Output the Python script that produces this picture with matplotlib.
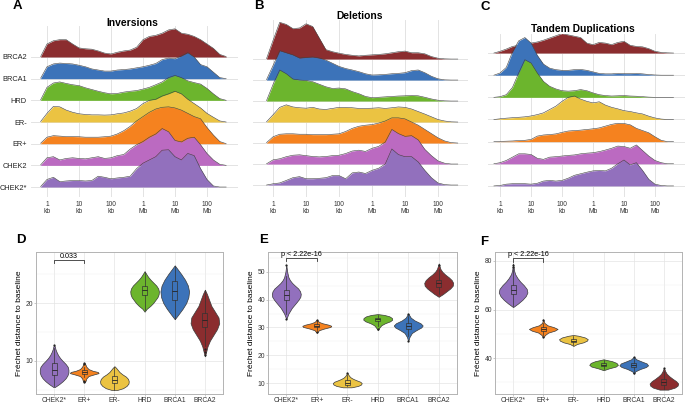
import numpy as np
import matplotlib
matplotlib.use('Agg')
import matplotlib.pyplot as plt

plt.rcParams['font.family'] = ['Liberation Sans', 'DejaVu Sans']

# groups, bottom row first
groups = ['CHEK2*', 'CHEK2', 'ER+', 'ER-', 'HRD', 'BRCA1', 'BRCA2']
colors = {'CHEK2*': '#9270bd', 'CHEK2': '#bb6ac1', 'ER+': '#f5821f', 'ER-': '#ebc342',
          'HRD': '#6cb52d', 'BRCA1': '#3c73b9', 'BRCA2': '#8b2d2f'}

# log10(size in bp)
log_bp = [2.8, 3.0, 3.2, 3.4, 3.6, 3.8, 4.0, 4.2, 4.4, 4.6, 4.8, 5.0, 5.2, 5.4, 5.6,
          5.8, 6.0, 6.2, 6.4, 6.6, 6.8, 7.0, 7.2, 7.4, 7.6, 7.8, 8.0, 8.2, 8.4, 8.6]
size_ticks = [3, 4, 5, 6, 7, 8]
size_labels = ['1\nkb', '10\nkb', '100\nkb', '1\nMb', '10\nMb', '100\nMb']

# ridge heights (in row units) - Inversions
inv_brca2 = [0.02, 0.6, 0.75, 0.8, 0.8, 0.6, 0.42, 0.38, 0.36, 0.28, 0.18, 0.14, 0.22, 0.28, 0.32,
             0.45, 0.8, 0.95, 1.0, 1.1, 1.25, 1.3, 1.1, 1.05, 0.95, 0.8, 0.6, 0.4, 0.12, 0.02]
inv_brca1 = [0.02, 0.55, 0.68, 0.72, 0.7, 0.68, 0.62, 0.55, 0.45, 0.4, 0.35, 0.35, 0.4, 0.42, 0.45,
             0.5, 0.55, 0.62, 0.7, 0.88, 0.95, 0.92, 1.05, 1.2, 1.0, 0.65, 0.55, 0.3, 0.05, 0.0]
inv_hrd = [0.02, 0.6, 0.8, 0.85, 0.78, 0.72, 0.68, 0.58, 0.5, 0.42, 0.35, 0.3, 0.32, 0.38, 0.42,
           0.45, 0.52, 0.6, 0.72, 0.85, 1.05, 1.15, 1.05, 0.9, 0.82, 0.75, 0.55, 0.3, 0.08, 0.0]
inv_ern = [0.02, 0.4, 0.72, 0.7, 0.55, 0.45, 0.38, 0.35, 0.33, 0.33, 0.32, 0.33, 0.38, 0.42, 0.5,
           0.62, 0.85, 1.0, 1.05, 1.2, 1.3, 1.42, 1.3, 1.05, 0.85, 0.65, 0.4, 0.22, 0.05, 0.0]
inv_erp = [0.02, 0.3, 0.37, 0.35, 0.33, 0.33, 0.32, 0.3, 0.3, 0.3, 0.32, 0.35, 0.45, 0.6, 0.8,
           1.05, 1.25, 1.45, 1.6, 1.68, 1.7, 1.65, 1.55, 1.4, 1.25, 1.15, 0.75, 0.4, 0.1, 0.0]
inv_chek2 = [0.02, 0.35, 0.4, 0.25, 0.32, 0.35, 0.32, 0.3, 0.35, 0.4, 0.32, 0.35, 0.45, 0.5, 0.75,
             0.95, 1.1, 1.3, 1.45, 1.7, 1.55, 1.15, 1.08, 1.25, 1.3, 0.95, 0.55, 0.25, 0.05, 0.0]
inv_chek2s = [0.02, 0.35, 0.45, 0.25, 0.28, 0.3, 0.3, 0.28, 0.3, 0.5, 0.45, 0.38, 0.42, 0.45, 0.5,
              0.85, 1.1, 1.25, 1.4, 1.7, 1.72, 1.4, 1.25, 1.55, 1.45, 0.85, 0.35, 0.05, 0.0, 0.0]

# Deletions
del_brca2 = [0.02, 0.9, 1.75, 1.65, 1.45, 1.48, 1.68, 1.55, 1.0, 0.45, 0.35, 0.28, 0.22, 0.18, 0.15,
             0.18, 0.2, 0.22, 0.25, 0.3, 0.35, 0.38, 0.3, 0.3, 0.25, 0.12, 0.04, 0.01, 0.0, 0.0]
del_brca1 = [0.02, 0.7, 1.4, 1.3, 1.2, 1.05, 1.08, 1.1, 1.05, 0.95, 0.8, 0.65, 0.55, 0.48, 0.4,
             0.3, 0.24, 0.25, 0.27, 0.3, 0.32, 0.35, 0.45, 0.48, 0.35, 0.18, 0.06, 0.01, 0.0, 0.0]
del_hrd = [0.02, 0.8, 1.48, 1.3, 1.05, 1.0, 0.98, 0.92, 0.8, 0.68, 0.6, 0.62, 0.58, 0.45, 0.35,
           0.22, 0.16, 0.18, 0.2, 0.22, 0.24, 0.25, 0.27, 0.25, 0.18, 0.1, 0.04, 0.01, 0.0, 0.0]
del_ern = [0.01, 0.35, 0.7, 0.82, 0.72, 0.68, 0.66, 0.7, 0.62, 0.6, 0.65, 0.7, 0.7, 0.68, 0.65,
           0.65, 0.66, 0.68, 0.65, 0.68, 0.72, 0.7, 0.62, 0.5, 0.38, 0.25, 0.12, 0.05, 0.01, 0.0]
del_erp = [0.02, 0.3, 0.42, 0.44, 0.44, 0.42, 0.42, 0.4, 0.4, 0.4, 0.42, 0.44, 0.55, 0.7, 0.8,
           0.85, 0.88, 0.95, 1.05, 1.2, 1.2, 1.15, 1.0, 0.85, 0.65, 0.45, 0.25, 0.1, 0.02, 0.0]
del_chek2 = [0.01, 0.2, 0.25, 0.35, 0.42, 0.44, 0.4, 0.36, 0.34, 0.36, 0.4, 0.42, 0.5, 0.62, 0.66,
             0.6, 0.75, 0.84, 1.05, 1.65, 1.45, 1.32, 1.35, 1.15, 0.7, 0.4, 0.15, 0.04, 0.0, 0.0]
del_chek2s = [0.0, 0.06, 0.1, 0.22, 0.35, 0.4, 0.3, 0.3, 0.32, 0.35, 0.45, 0.45, 0.3, 0.58, 0.62,
              0.55, 0.7, 0.8, 1.0, 1.72, 1.45, 1.35, 1.35, 1.1, 0.7, 0.35, 0.1, 0.02, 0.0, 0.0]

# Tandem duplications
td_brca2 = [0.0, 0.08, 0.18, 0.3, 0.35, 0.4, 0.45, 0.5, 0.58, 0.68, 0.78, 0.88, 0.82, 0.76, 0.7,
            0.45, 0.38, 0.48, 0.45, 0.38, 0.48, 0.53, 0.35, 0.3, 0.28, 0.2, 0.08, 0.03, 0.01, 0.0]
td_brca1 = [0.0, 0.1, 0.35, 1.05, 1.55, 1.7, 1.45, 0.9, 0.5, 0.32, 0.25, 0.22, 0.22, 0.25, 0.26,
            0.22, 0.15, 0.08, 0.06, 0.06, 0.08, 0.07, 0.07, 0.08, 0.06, 0.03, 0.01, 0.0, 0.0, 0.0]
td_hrd = [0.0, 0.03, 0.12, 0.45, 1.1, 1.7, 1.55, 1.1, 0.72, 0.5, 0.38, 0.3, 0.28, 0.3, 0.35,
          0.3, 0.2, 0.12, 0.08, 0.06, 0.07, 0.08, 0.06, 0.05, 0.03, 0.01, 0.0, 0.0, 0.0, 0.0]
td_ern = [0.0, 0.03, 0.06, 0.08, 0.1, 0.12, 0.16, 0.22, 0.3, 0.45, 0.6, 0.82, 1.0, 1.06, 0.92,
          0.82, 0.75, 0.8, 0.65, 0.55, 0.48, 0.4, 0.36, 0.3, 0.25, 0.15, 0.07, 0.02, 0.0, 0.0]
td_erp = [0.0, 0.01, 0.02, 0.03, 0.05, 0.06, 0.1, 0.25, 0.3, 0.32, 0.35, 0.42, 0.48, 0.5, 0.52,
          0.55, 0.58, 0.62, 0.7, 0.78, 0.83, 0.82, 0.76, 0.6, 0.5, 0.4, 0.22, 0.06, 0.0, 0.0]
td_chek2 = [0.0, 0.05, 0.15, 0.3, 0.45, 0.45, 0.42, 0.25, 0.2, 0.3, 0.32, 0.35, 0.38, 0.4, 0.45,
            0.48, 0.5, 0.55, 0.62, 0.7, 0.8, 0.78, 0.7, 0.85, 0.6, 0.35, 0.15, 0.05, 0.0, 0.0]
td_chek2s = [0.0, 0.02, 0.08, 0.1, 0.1, 0.1, 0.08, 0.12, 0.22, 0.25, 0.22, 0.25, 0.35, 0.48, 0.55,
             0.62, 0.68, 0.7, 0.68, 0.8, 1.0, 1.17, 0.95, 1.05, 0.7, 0.3, 0.08, 0.02, 0.0, 0.0]

# violin panels: categories left to right
vgroups = ['CHEK2*', 'ER+', 'ER-', 'HRD', 'BRCA1', 'BRCA2']

# violin outlines: (y values, relative width) per group
d_shapes = {
    'CHEK2*': ([5.5, 6.0, 6.5, 7.0, 7.5, 8.0, 8.5, 9.0, 9.5, 10.0, 10.5, 11.0, 11.5, 12.0, 12.5, 12.8],
               [0.05, 0.35, 0.6, 0.8, 0.93, 1.0, 1.0, 0.95, 0.8, 0.6, 0.42, 0.28, 0.18, 0.1, 0.05, 0.0]),
    'ER+': ([6.3, 6.6, 7.0, 7.4, 7.7, 7.9, 8.1, 8.3, 8.6, 9.0, 9.4, 9.7],
            [0.02, 0.1, 0.15, 0.3, 0.7, 1.0, 0.95, 0.6, 0.3, 0.15, 0.08, 0.0]),
    'ER-': ([5.0, 5.3, 5.7, 6.1, 6.5, 6.9, 7.3, 7.7, 8.1, 8.5, 8.8, 9.1],
            [0.2, 0.6, 0.85, 0.98, 1.0, 0.95, 0.8, 0.55, 0.35, 0.22, 0.12, 0.0]),
    'HRD': ([18.5, 19.0, 19.5, 20.0, 20.5, 21.0, 21.5, 22.0, 22.5, 23.0, 23.5, 24.0, 24.5, 25.0, 25.5],
            [0.0, 0.15, 0.4, 0.6, 0.75, 0.9, 0.98, 1.0, 0.95, 0.82, 0.62, 0.42, 0.25, 0.12, 0.0]),
    'BRCA1': ([17.2, 18, 19, 20, 21, 22, 23, 24, 25, 26, 26.5],
              [0.0, 0.25, 0.55, 0.8, 0.95, 1.0, 0.92, 0.72, 0.45, 0.15, 0.0]),
    'BRCA2': ([10.8, 11.5, 12.5, 13.5, 14.5, 15.5, 16.5, 17.5, 18.5, 19.5, 20.5, 21.5, 22.3],
              [0.0, 0.08, 0.18, 0.35, 0.6, 0.85, 1.0, 0.95, 0.7, 0.45, 0.3, 0.15, 0.0]),
}
e_shapes = {
    'CHEK2*': ([33, 35, 37, 39, 40, 41, 42, 43, 44, 45, 46, 47, 48, 50, 52.5],
               [0.0, 0.15, 0.38, 0.7, 0.85, 0.97, 1.0, 0.95, 0.82, 0.6, 0.4, 0.25, 0.15, 0.06, 0.0]),
    'ER+': ([28, 29, 29.6, 30.2, 30.6, 31.0, 31.5, 32.0, 32.8],
            [0.0, 0.15, 0.5, 0.95, 1.0, 0.8, 0.4, 0.15, 0.0]),
    'ER-': ([8.5, 9.0, 9.5, 10.0, 10.5, 11.0, 11.5, 12.0, 12.5, 13.0, 13.8],
            [0.3, 0.75, 0.95, 1.0, 0.9, 0.65, 0.42, 0.25, 0.15, 0.08, 0.0]),
    'HRD': ([29, 30, 30.8, 31.5, 32.2, 32.8, 33.4, 34.0, 34.5, 34.8],
            [0.0, 0.12, 0.25, 0.5, 0.85, 1.0, 0.98, 0.8, 0.45, 0.0]),
    'BRCA1': ([25, 26.5, 28, 29, 30, 30.7, 31.5, 32.5, 33.5, 35],
              [0.0, 0.08, 0.25, 0.55, 0.9, 1.0, 0.85, 0.45, 0.18, 0.0]),
    'BRCA2': ([41, 42, 43, 44, 45, 46, 47, 48, 49, 50, 51, 53],
              [0.0, 0.3, 0.55, 0.8, 0.97, 1.0, 0.9, 0.7, 0.45, 0.25, 0.12, 0.0]),
}
f_shapes = {
    'CHEK2*': ([61, 62.5, 64, 65.5, 67, 68.5, 70, 71.5, 73, 74.5, 76, 79],
               [0.0, 0.35, 0.65, 0.88, 1.0, 0.95, 0.75, 0.5, 0.3, 0.15, 0.07, 0.0]),
    'ER+': ([48.5, 49.5, 50.5, 51.3, 52.0, 52.7, 53.5, 54.5, 56],
            [0.0, 0.12, 0.35, 0.8, 1.0, 0.75, 0.3, 0.08, 0.0]),
    'ER-': ([45, 45.8, 46.5, 47.2, 47.8, 48.5, 49.2, 49.5],
            [0.0, 0.25, 0.7, 0.95, 1.0, 0.8, 0.35, 0.0]),
    'HRD': ([35, 35.8, 36.5, 37.2, 38.0, 38.7, 39.5],
            [0.0, 0.4, 0.85, 1.0, 0.9, 0.6, 0.0]),
    'BRCA1': ([33.5, 34.5, 35.5, 36.3, 37.0, 37.8, 38.6, 39.5, 40.5],
              [0.0, 0.1, 0.45, 0.85, 1.0, 0.9, 0.55, 0.18, 0.0]),
    'BRCA2': ([27, 27.8, 28.6, 29.5, 30.5, 31.5, 32.5, 33.5, 34.5, 36],
              [0.3, 0.75, 0.95, 1.0, 0.85, 0.6, 0.38, 0.2, 0.1, 0.0]),
}

# box summaries: median, q1, q3, lower whisker, upper whisker, outliers
d_boxes = {'CHEK2*': (8.5, 7.5, 9.6, 5.6, 12.3, [12.8]),
           'ER+': (8.05, 7.75, 8.4, 7.2, 9.0, [6.4, 6.6, 9.5, 9.7]),
           'ER-': (6.8, 6.2, 7.4, 5.0, 9.0, []),
           'HRD': (22.2, 21.3, 23.0, 18.8, 25.3, []),
           'BRCA1': (22.0, 20.5, 23.8, 17.3, 26.4, []),
           'BRCA2': (17.0, 15.8, 18.2, 12.5, 22.2, [11.0, 11.5, 12.0])}
e_boxes = {'CHEK2*': (41.8, 39.8, 43.5, 35.0, 48.5, [33.2, 52.3]),
           'ER+': (30.6, 30.1, 31.2, 29.2, 32.2, [28.2, 32.7]),
           'ER-': (10.2, 9.5, 11.0, 8.8, 12.8, [13.6]),
           'HRD': (33.0, 32.3, 33.5, 30.5, 34.6, [29.3]),
           'BRCA1': (30.5, 29.5, 31.5, 27.0, 34.0, [25.3, 34.8]),
           'BRCA2': (45.8, 44.5, 47.2, 42.0, 51.0, [52.6])}
f_boxes = {'CHEK2*': (68.0, 66.2, 70.0, 61.5, 77.0, [77.5, 78.5]),
           'ER+': (52.0, 51.3, 52.8, 49.5, 54.5, [48.8, 55.8]),
           'ER-': (47.2, 46.6, 47.8, 45.5, 49.0, []),
           'HRD': (37.3, 36.6, 38.0, 35.5, 39.3, []),
           'BRCA1': (37.0, 36.2, 37.8, 34.5, 39.8, [33.8, 40.5]),
           'BRCA2': (30.0, 28.8, 31.3, 27.2, 34.5, [35.8])}

W, H = 685, 405
fig = plt.figure(figsize=(6.85, 4.05), dpi=100)


def px_axes(l, t, r, b):
    return fig.add_axes([l / W, 1 - b / H, (r - l) / W, (b - t) / H])


def ridge_panel(ax, rows, xlim, ylim, show_labels):
    for k, g in enumerate(groups):
        base = k + 1
        top = base + np.array(rows[k])
        z = 20 - k
        ax.fill_between(log_bp, base, top, color=colors[g], lw=0, zorder=z)
        ax.plot(log_bp, top, color='#404040', lw=0.4, zorder=z + 0.5)
    ax.set_xlim(*xlim)
    ax.set_ylim(*ylim)
    ax.set_xticks(size_ticks)
    ax.set_xticklabels(size_labels, fontsize=4.8, color='#333333', linespacing=0.95)
    ax.set_yticks(range(1, 8))
    ax.set_yticklabels(groups if show_labels else [], fontsize=5.3, color='#222222')
    ax.grid(color='#e3e3e3', lw=0.7)
    ax.set_axisbelow(True)
    ax.tick_params(length=0, pad=3)
    for s in ax.spines.values():
        s.set_visible(False)


def violin_panel(ax, shapes, boxes, ylim, major, minor, ptext, py, pdrop):
    stats = []
    for g in vgroups:
        ys, ws = shapes[g]
        med = boxes[g][0]
        stats.append(dict(coords=np.array(ys, float), vals=np.array(ws, float),
                          mean=med, median=med, min=min(ys), max=max(ys)))
    parts = ax.violin(stats, positions=range(1, 7), widths=0.95,
                      showmeans=False, showextrema=False, showmedians=False)
    for body, g in zip(parts['bodies'], vgroups):
        body.set_facecolor(colors[g])
        body.set_edgecolor('#3a3a3a')
        body.set_linewidth(0.5)
        body.set_alpha(1)
        body.set_zorder(3)
    bstats = []
    for g in vgroups:
        med, q1, q3, lo, hi, fl = boxes[g]
        bstats.append(dict(med=med, q1=q1, q3=q3, whislo=lo, whishi=hi, fliers=fl))
    ax.bxp(bstats, positions=range(1, 7), widths=0.16, patch_artist=True, showcaps=False,
           boxprops=dict(facecolor='none', edgecolor='#333333', lw=0.5),
           medianprops=dict(color='#222222', lw=0.6),
           whiskerprops=dict(color='#333333', lw=0.5),
           flierprops=dict(marker='o', ms=1.6, mfc='#222222', mec='#222222', mew=0),
           zorder=4)
    ax.set_xlim(0.4, 6.6)
    ax.set_ylim(*ylim)
    ax.set_xticks(range(1, 7))
    ax.set_xticklabels(vgroups)
    ax.set_yticks(major)
    ax.set_yticks(minor, minor=True)
    ax.grid(which='major', color='#e4e4e4', lw=0.5)
    ax.grid(which='minor', axis='y', color='#f0f0f0', lw=0.35)
    ax.set_axisbelow(True)
    ax.tick_params(which='major', length=1.3, width=0.5, color='#b3b3b3', labelsize=4.9,
                   labelcolor='#333333', pad=0.8)
    ax.tick_params(which='minor', length=0)
    for s in ax.spines.values():
        s.set_color('#b3b3b3')
        s.set_linewidth(0.7)
    ax.set_ylabel('Fréchet distance to baseline', fontsize=6, labelpad=1.5)
    ax.plot([1, 1, 2, 2], [py - pdrop, py, py, py - pdrop], color='#333333', lw=0.6)
    ax.text(1.5, py, ptext, ha='center', va='bottom', fontsize=5.2)


# top row: ridgelines
axA = px_axes(31, 26, 238, 197)
ridge_panel(axA, [inv_chek2s, inv_chek2, inv_erp, inv_ern, inv_hrd, inv_brca1, inv_brca2],
            (2.5, 8.97), (0.54, 8.43), True)
axB = px_axes(253, 20, 468, 197)
ridge_panel(axB, [del_chek2s, del_chek2, del_erp, del_ern, del_hrd, del_brca1, del_brca2],
            (2.39, 8.91), (0.43, 8.86), False)
axC = px_axes(488, 34, 685, 197)
ridge_panel(axC, [td_chek2s, td_chek2, td_erp, td_ern, td_hrd, td_brca1, td_brca2],
            (2.61, 8.97), (0.50, 7.86), False)

fig.text(132 / W, 1 - 23 / H, 'Inversions', ha='center', va='center', fontsize=7.4, fontweight='bold')
fig.text(360 / W, 1 - 16 / H, 'Deletions', ha='center', va='center', fontsize=7.4, fontweight='bold')
fig.text(583 / W, 1 - 28.5 / H, 'Tandem Duplications', ha='center', va='center', fontsize=7.4,
         fontweight='bold')

# bottom row: violins
axD = px_axes(36, 252, 223, 394)
violin_panel(axD, d_shapes, d_boxes, (4.3, 28.8), [10, 20], [5, 15, 25], '0.033', 27.5, 0.6)
axE = px_axes(268, 252, 457, 394)
violin_panel(axE, e_shapes, e_boxes, (6.1, 57.1), [10, 20, 30, 40, 50], [15, 25, 35, 45, 55],
             'p < 2.22e-16', 55.1, 1.4)
axF = px_axes(495, 252, 682, 394)
violin_panel(axF, f_shapes, f_boxes, (25.2, 83.7), [40, 60, 80], [30, 50, 70],
             'p < 2.22e-16', 81.1, 1.5)

for lab, x, y in [('A', 17, 6), ('B', 259, 6), ('C', 485, 7),
                  ('D', 21, 240), ('E', 264, 240), ('F', 484, 242)]:
    fig.text(x / W, 1 - y / H, lab, ha='center', va='center', fontsize=9.5, fontweight='bold')

fig.savefig('out.png', dpi=100)
